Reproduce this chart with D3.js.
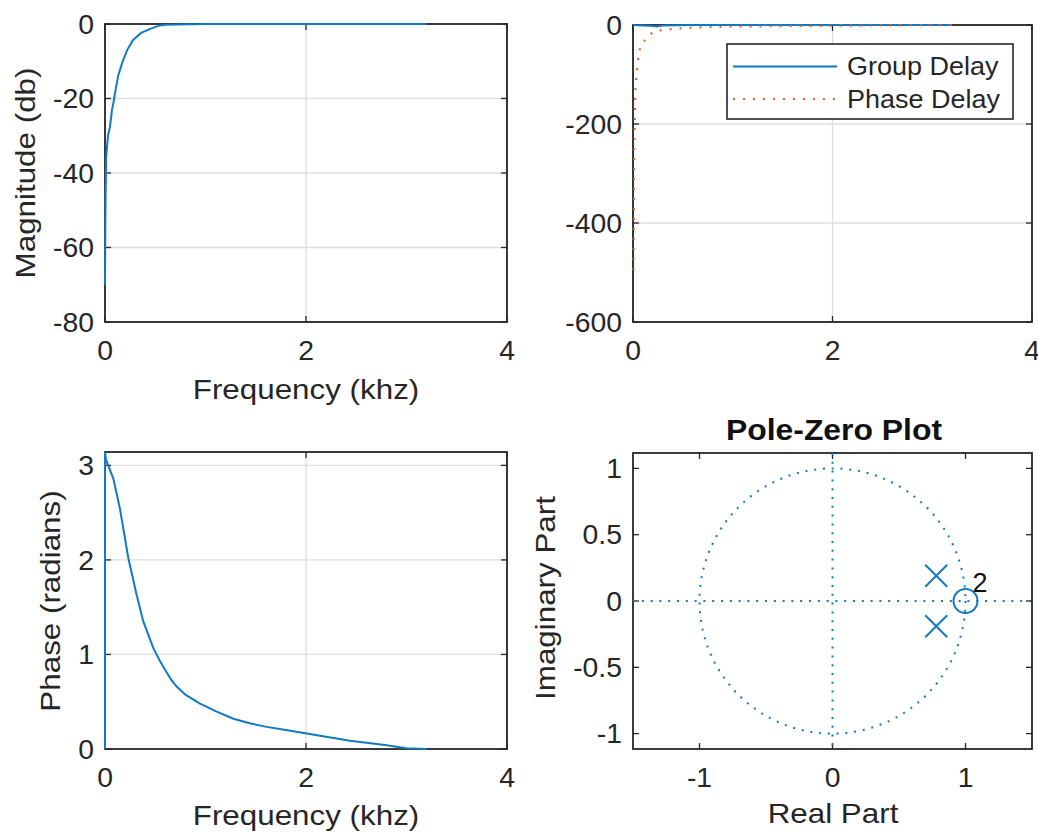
<!DOCTYPE html>
<html><head><meta charset="utf-8">
<script src="https://cdn.jsdelivr.net/npm/d3@7"></script>
<style>
html,body{margin:0;padding:0;background:#fff;}
svg{display:block;font-family:"Liberation Sans",Arial,sans-serif;}
</style></head><body>
<svg id="c" width="1038" height="834"></svg>
<script>
// ---------- data ----------
const magFreq = [0, 0.005, 0.012, 0.03, 0.05, 0.07, 0.085, 0.1, 0.13, 0.17, 0.22, 0.28, 0.36, 0.45, 0.53, 0.6, 1.0, 2.0, 3.2];
const magDb   = [-70, -48, -35.5, -30, -27.5, -23, -21, -18.5, -14, -10.5, -7, -4.3, -2.4, -1.3, -0.5, -0.2, 0, 0, 0];

const phaseFreq = [0, 0, 0.01, 0.083, 0.149, 0.232, 0.315, 0.381, 0.48, 0.547, 0.614, 0.66, 0.713, 0.8, 0.945, 1.1, 1.277, 1.45, 1.609, 1.8, 2.007, 2.2, 2.438, 2.786, 3.0, 3.2];
const phaseRad  = [0, 3.1416, 3.06, 2.86, 2.54, 2.02, 1.63, 1.35, 1.07, 0.93, 0.81, 0.73, 0.66, 0.575, 0.48, 0.4, 0.32, 0.27, 0.234, 0.2, 0.165, 0.13, 0.087, 0.042, 0.007, 0];

const gdFreq     = [0, 0.1, 0.2, 0.24, 0.3, 0.6, 1.0, 2.0, 3.2];
const groupDelay = [0, -1, -2, -3, -1, 0, 0, 0, 0];

const pdFreq     = [0.006, 0.012, 0.019, 0.025, 0.04, 0.053, 0.07, 0.104, 0.154, 0.204, 0.3, 0.404, 0.6, 1.0, 2.0, 3.2];
const phaseDelay = [-495, -255, -170, -128, -89, -69, -47, -34, -23.6, -13.5, -10, -8, -5, -3, -1.5, 0];

const poleRe = [0.78, 0.78];
const poleIm = [0.19, -0.19];
const zeroRe = [1];
const zeroIm = [0];
const zeroMult = [2];

const freqTicks  = [0, 2, 4];
const magTicks   = [-80, -60, -40, -20, 0];
const delayTicks = [-600, -400, -200, 0];
const phaseTicks = [0, 1, 2, 3];
const reTicks    = [-1, 0, 1];
const imTicks    = [-1, -0.5, 0, 0.5, 1];
const legendLabels = ["Group Delay", "Phase Delay"];

// ---------- styling ----------
const BLUE = "#1279c3", ORANGE = "#e0622a", AX = "#262626", GRID = "#dedede";
const svg = d3.select("#c");

function txt(x, y, s, o) {
  o = o || {};
  svg.append("text")
    .attr("transform", `translate(${x},${y})${o.rot ? ` rotate(${o.rot})` : ""} scale(${o.sx || 1},1)`)
    .attr("text-anchor", o.anchor || "start")
    .attr("font-size", o.size || 26)
    .attr("font-weight", o.bold ? "bold" : null)
    .attr("dy", o.dy || null)
    .attr("fill", o.fill || AX)
    .text(s);
}

function makePanel(box, xDom, yDom) {
  return {
    box,
    x: d3.scaleLinear().domain(xDom).range([box.x0, box.x1]),
    y: d3.scaleLinear().domain(yDom).range([box.y1, box.y0])
  };
}

function drawGrid(p, xt, yt) {
  const g = svg.append("g").attr("stroke", GRID).attr("stroke-width", 1.3);
  xt.forEach(t => g.append("line").attr("x1", p.x(t)).attr("x2", p.x(t)).attr("y1", p.box.y0).attr("y2", p.box.y1));
  yt.forEach(t => g.append("line").attr("y1", p.y(t)).attr("y2", p.y(t)).attr("x1", p.box.x0).attr("x2", p.box.x1));
}

function drawFrame(p, xt, yt) {
  const b = p.box, L = 6;
  const g = svg.append("g").attr("stroke", AX).attr("fill", "none");
  g.append("rect").attr("x", b.x0).attr("y", b.y0).attr("width", b.x1 - b.x0).attr("height", b.y1 - b.y0).attr("stroke-width", 1.8);
  xt.forEach(t => {
    const X = p.x(t);
    g.append("line").attr("x1", X).attr("x2", X).attr("y1", b.y1).attr("y2", b.y1 - L).attr("stroke-width", 1.3);
    g.append("line").attr("x1", X).attr("x2", X).attr("y1", b.y0).attr("y2", b.y0 + L).attr("stroke-width", 1.3);
    txt(X, b.y1 + 38, String(t), { anchor: "middle", size: 27, sx: 1.05 });
  });
  yt.forEach(t => {
    const Y = p.y(t);
    g.append("line").attr("y1", Y).attr("y2", Y).attr("x1", b.x0).attr("x2", b.x0 + L).attr("stroke-width", 1.3);
    g.append("line").attr("y1", Y).attr("y2", Y).attr("x1", b.x1).attr("x2", b.x1 - L).attr("stroke-width", 1.3);
    txt(b.x0 - 11, Y, String(t), { anchor: "end", size: 27, sx: 1.05, dy: "0.36em" });
  });
}

function line(p, xs, ys) {
  return d3.line().x((d, i) => p.x(xs[i])).y((d, i) => p.y(ys[i]))(xs);
}

// ---------- panel 1: magnitude ----------
const p1 = makePanel({ x0: 105, x1: 507, y0: 24, y1: 322 }, [0, 4], [-80, 0]);
drawGrid(p1, freqTicks, magTicks);
drawFrame(p1, freqTicks, magTicks);
svg.append("path").attr("d", line(p1, magFreq, magDb)).attr("fill", "none").attr("stroke", BLUE).attr("stroke-width", 2);
txt(306, 399, "Frequency (khz)", { anchor: "middle", size: 28, sx: 1.12 });
txt(35, 173, "Magnitude (db)", { anchor: "middle", size: 28, sx: 1.12, rot: -90 });

// ---------- panel 2: delays ----------
const p2 = makePanel({ x0: 633, x1: 1032, y0: 25, y1: 322 }, [0, 4], [-600, 0]);
drawGrid(p2, freqTicks, delayTicks);
drawFrame(p2, freqTicks, delayTicks);
svg.append("path").attr("d", line(p2, gdFreq, groupDelay)).attr("fill", "none").attr("stroke", BLUE).attr("stroke-width", 2);
svg.append("path").attr("d", line(p2, pdFreq, phaseDelay)).attr("fill", "none").attr("stroke", ORANGE).attr("stroke-width", 2.2).attr("stroke-dasharray", "2 8");
// legend
svg.append("rect").attr("x", 727).attr("y", 44).attr("width", 286).attr("height", 75).attr("fill", "#fff").attr("stroke", AX).attr("stroke-width", 1.6);
svg.append("line").attr("x1", 733).attr("x2", 837).attr("y1", 66.5).attr("y2", 66.5).attr("stroke", BLUE).attr("stroke-width", 2);
svg.append("line").attr("x1", 733).attr("x2", 837).attr("y1", 99).attr("y2", 99).attr("stroke", ORANGE).attr("stroke-width", 2.2).attr("stroke-dasharray", "2 8");
txt(847, 75, legendLabels[0], { size: 25, sx: 1.08 });
txt(847, 108, legendLabels[1], { size: 25, sx: 1.08 });

// ---------- panel 3: phase ----------
const p3 = makePanel({ x0: 105, x1: 507, y0: 452, y1: 749 }, [0, 4], [0, Math.PI]);
drawGrid(p3, freqTicks, phaseTicks);
drawFrame(p3, freqTicks, phaseTicks);
svg.append("path").attr("d", line(p3, phaseFreq, phaseRad)).attr("fill", "none").attr("stroke", BLUE).attr("stroke-width", 2);
txt(306, 825, "Frequency (khz)", { anchor: "middle", size: 28, sx: 1.12 });
txt(60, 601, "Phase (radians)", { anchor: "middle", size: 28, sx: 1.12, rot: -90 });

// ---------- panel 4: pole-zero ----------
const p4 = makePanel({ x0: 633, x1: 1032, y0: 453, y1: 749 }, [-1.5, 1.5], [-1.116, 1.116]);
drawFrame(p4, reTicks, imTicks);
const dot = "2 6.8";
const pz = svg.append("g").attr("fill", "none").attr("stroke", BLUE);
pz.append("line").attr("x1", p4.x(-1.5)).attr("x2", p4.x(1.5)).attr("y1", p4.y(0)).attr("y2", p4.y(0)).attr("stroke-width", 2).attr("stroke-dasharray", dot);
pz.append("line").attr("x1", p4.x(0)).attr("x2", p4.x(0)).attr("y1", p4.y(1.116)).attr("y2", p4.y(-1.116)).attr("stroke-width", 2).attr("stroke-dasharray", dot);
pz.append("ellipse").attr("cx", p4.x(0)).attr("cy", p4.y(0)).attr("rx", p4.x(1) - p4.x(0)).attr("ry", p4.y(0) - p4.y(1)).attr("stroke-width", 2).attr("stroke-dasharray", dot);
poleRe.forEach((re, i) => {
  const X = p4.x(re), Y = p4.y(poleIm[i]), s = 11;
  pz.append("path").attr("d", `M${X - s},${Y - s}L${X + s},${Y + s}M${X - s},${Y + s}L${X + s},${Y - s}`).attr("stroke-width", 2);
});
zeroRe.forEach((re, i) => {
  const X = p4.x(re), Y = p4.y(zeroIm[i]);
  pz.append("circle").attr("cx", X).attr("cy", Y).attr("r", 12).attr("stroke-width", 2);
  if (zeroMult[i] > 1) txt(X + 7, Y - 9, String(zeroMult[i]), { size: 27, fill: "#111" });
});
txt(834, 440, "Pole-Zero Plot", { anchor: "middle", size: 29, sx: 1.1, bold: true, fill: "#111" });
txt(833, 823, "Real Part", { anchor: "middle", size: 28, sx: 1.12 });
txt(555, 598, "Imaginary Part", { anchor: "middle", size: 28, sx: 1.12, rot: -90 });
</script>
</body></html>
